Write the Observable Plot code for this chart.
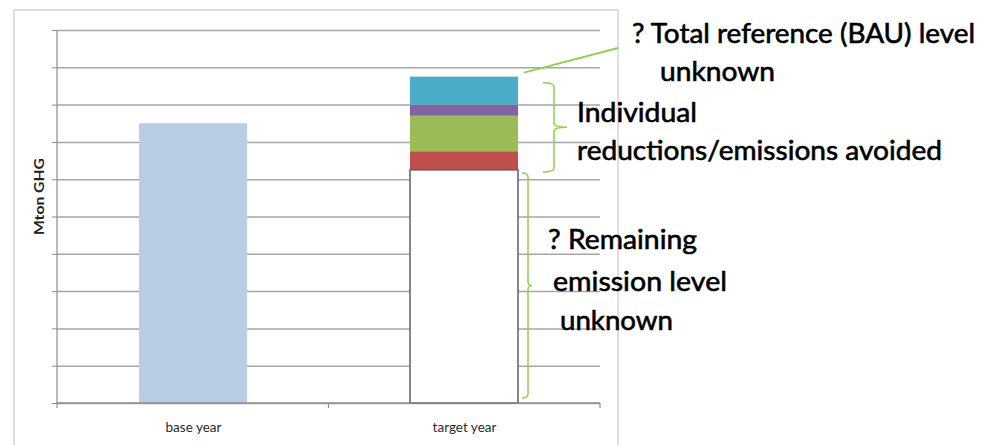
<!DOCTYPE html>
<html>
<head>
<meta charset="utf-8">
<script src="https://cdn.jsdelivr.net/npm/d3@7"></script>
<script src="https://cdn.jsdelivr.net/npm/@observablehq/plot@0.6"></script>
<style>
  html, body { margin: 0; padding: 0; background: #fff; }
  #chart svg { display: block; }
</style>
</head>
<body>
<div id="chart"></div>
<script>
// ---- data ----
const categories = ["base year", "target year"];
const baseYearValue = 7.5;
const targetSegments = ["remaining emission level", "reduction 1", "reduction 2", "reduction 3", "reduction 4"];
const targetValues = [6.25, 0.5, 0.95, 0.3, 0.75];
const segmentColors = ["#ffffff", "#c0504d", "#9bbb59", "#8064a2", "#4bacc6"];
const yTicks = [0, 1, 2, 3, 4, 5, 6, 7, 8, 9, 10];
const yLabel = "Mton GHG";
const bauLines = ["? Total reference (BAU) level", "unknown"];
const reductionLines = ["Individual", "reductions/emissions avoided"];
const remainingLines = ["? Remaining", "emission level", "unknown"];

// ---- tables built from the arrays ----
const baseData = [{category: categories[0], value: baseYearValue}];
const stackData = targetSegments.map((name, i) => ({
  category: categories[1], name, value: targetValues[i], color: segmentColors[i]
}));
const remainingData = stackData.slice(0, 1);

const W = 983, H = 445;
const chart = Plot.plot({
  width: W, height: H,
  marginLeft: 57, marginRight: 383, marginTop: 30, marginBottom: 42,
  style: {fontFamily: "Lato, 'Open Sans', sans-serif", background: "#fff"},
  x: {domain: categories, paddingInner: 0.6, paddingOuter: 0.3, axis: null},
  y: {domain: [0, 10], axis: null},
  marks: [
    Plot.gridY(yTicks, {stroke: "#a6a6a6", strokeOpacity: 1, strokeWidth: 1.5}),
    Plot.axisY(yTicks, {tickSize: 5, tickFormat: () => "", stroke: "#8c8c8c", label: null}),
    Plot.axisX({tickSize: 0, tickPadding: 19, fontSize: 13.5, fill: "#2a2a2a", label: null}),
    Plot.barY(baseData, {x: "category", y: "value", fill: "#b9cde5"}),
    Plot.barY(stackData, {x: "category", y: "value", fill: "color"}),
    Plot.barY(remainingData, {x: "category", y: "value", fill: "none", stroke: "#5f5f5f", strokeWidth: 1.5})
  ]
});
document.getElementById("chart").appendChild(chart);

// ---- annotations, positioned from the scales ----
const svg = d3.select(chart);
const xs = chart.scale("x"), ys = chart.scale("y");
const x0 = xs.range[0], x1 = xs.range[1];
const yTop = ys.apply(10), yBot = ys.apply(0);
const bw = xs.bandwidth;
const tLeft = xs.apply(categories[1]);
const tRight = tLeft + bw;
const remTop = targetValues[0];
const total = d3.sum(targetValues);

// outer frame
svg.insert("rect", ":first-child")
  .attr("x", 14).attr("y", 10).attr("width", 604).attr("height", H)
  .attr("fill", "none").attr("stroke", "#d4d4d4").attr("stroke-width", 1.5);

// axis lines and category boundary ticks
svg.append("line").attr("x1", x0).attr("x2", x0).attr("y1", yTop).attr("y2", yBot)
  .attr("stroke", "#8c8c8c").attr("stroke-width", 1.2);
svg.append("line").attr("x1", x0).attr("x2", x1).attr("y1", yBot).attr("y2", yBot)
  .attr("stroke", "#8c8c8c").attr("stroke-width", 1.5);
[x0, (x0 + x1) / 2, x1].forEach(xx => {
  svg.append("line").attr("x1", xx).attr("x2", xx).attr("y1", yBot).attr("y2", yBot + 5)
    .attr("stroke", "#8c8c8c").attr("stroke-width", 1.2);
});

// y label
svg.append("text")
  .attr("transform", `translate(38,${(yTop + yBot) / 2 - 20}) rotate(-90)`)
  .attr("text-anchor", "middle").attr("dominant-baseline", "central")
  .attr("font-size", 14).attr("font-weight", "bold").attr("fill", "#222")
  .attr("font-family", "Lato, sans-serif")
  .attr("textLength", 77).attr("lengthAdjust", "spacingAndGlyphs")
  .text(yLabel);

const green = "#92d050";
// connector to BAU text
svg.append("line")
  .attr("x1", tRight + 6).attr("y1", ys.apply(total) - 4)
  .attr("x2", 618).attr("y2", 48)
  .attr("stroke", green).attr("stroke-width", 2);

function brace(xa, xb, tip, top, bottom) {
  const mid = (top + bottom) / 2, r = 4;
  return `M${xa},${top} Q${xb},${top} ${xb},${top + r} L${xb},${mid - r} Q${xb},${mid} ${tip},${mid} ` +
         `Q${xb},${mid} ${xb},${mid + r} L${xb},${bottom - r} Q${xb},${bottom} ${xa},${bottom}`;
}
svg.append("path")
  .attr("d", brace(tRight + 25, tRight + 36, tRight + 49, ys.apply(total) + 6, ys.apply(remTop) + 2))
  .attr("fill", "none").attr("stroke", green).attr("stroke-width", 1.5);
svg.append("path")
  .attr("d", brace(tRight + 4, tRight + 10, tRight + 14, ys.apply(remTop) + 3, yBot - 5))
  .attr("fill", "none").attr("stroke", green).attr("stroke-width", 1.5);

// annotation text layout (pixel positions of the text blocks)
const textLayout = [
  {lines: bauLines, pos: [[632, 43, 343], [660, 81, 115]]},
  {lines: reductionLines, pos: [[577, 122, 120], [577, 160, 365]]},
  {lines: remainingLines, pos: [[548, 249, 149], [553, 291, 174], [560, 330, 113]]}
];
textLayout.forEach(block => {
  block.lines.forEach((t, i) => {
    const [tx, ty, tw] = block.pos[i];
    svg.append("text")
      .attr("x", tx).attr("y", ty)
      .attr("text-anchor", "start")
      .attr("font-size", 27).attr("font-family", "Lato, sans-serif")
      .attr("fill", "#000").attr("stroke", "#000").attr("stroke-width", 0.6)
      .attr("textLength", tw).attr("lengthAdjust", "spacingAndGlyphs")
      .text(t);
  });
});
</script>
</body>
</html>
